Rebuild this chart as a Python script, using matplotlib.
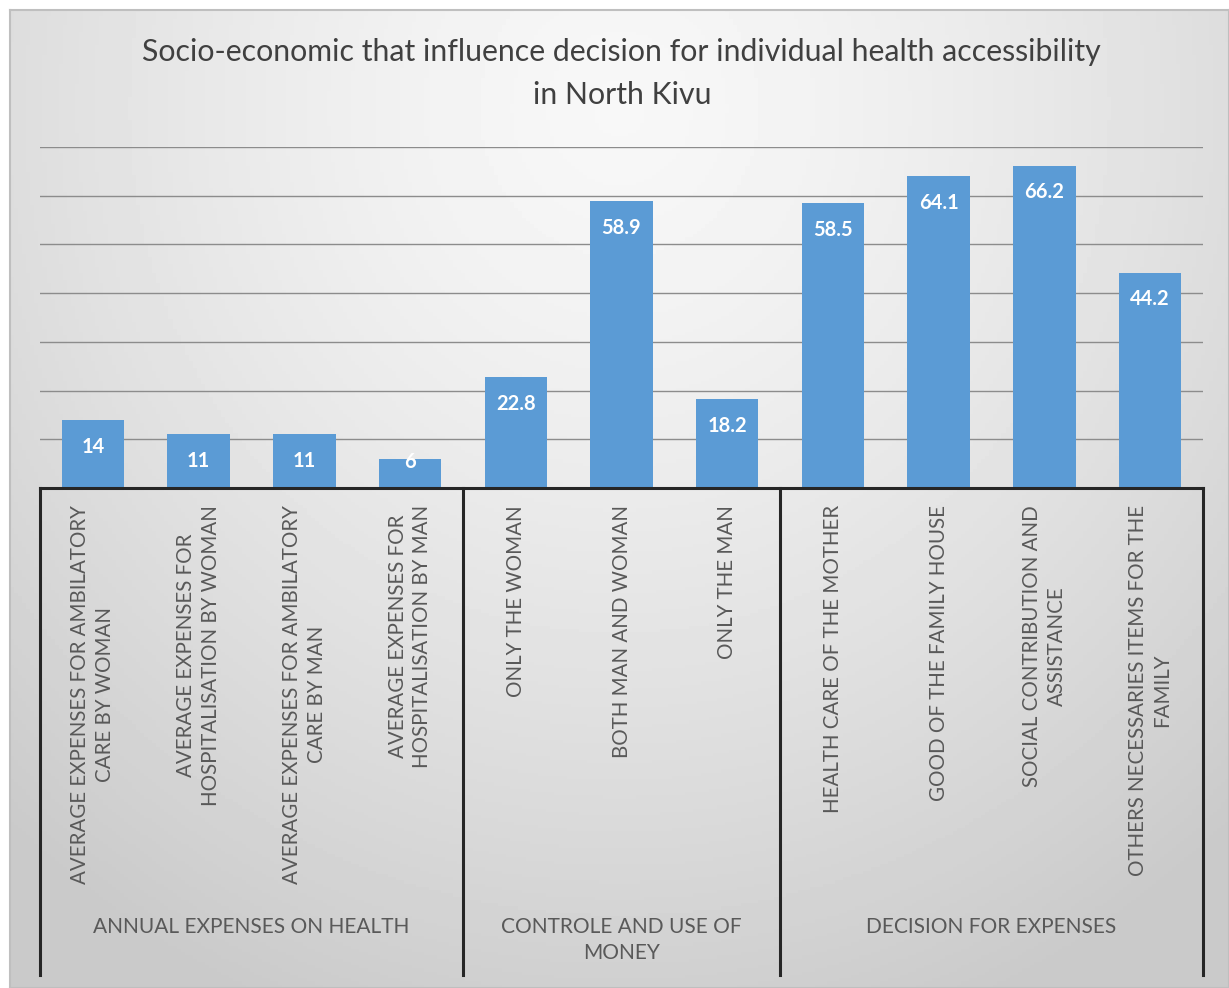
import numpy as np
import matplotlib
matplotlib.use("Agg")
import matplotlib.pyplot as plt

plt.rcParams['font.family'] = ['Lato', 'DejaVu Sans']

# data
labels = [
    "AVERAGE EXPENSES FOR AMBILATORY\nCARE BY WOMAN",
    "AVERAGE EXPENSES FOR\nHOSPITALISATION BY WOMAN",
    "AVERAGE EXPENSES FOR AMBILATORY\nCARE BY MAN",
    "AVERAGE EXPENSES FOR\nHOSPITALISATION BY MAN",
    "ONLY THE WOMAN",
    "BOTH MAN AND WOMAN",
    "ONLY THE MAN",
    "HEALTH CARE OF THE MOTHER",
    "GOOD OF THE FAMILY HOUSE",
    "SOCIAL CONTRIBUTION AND\nASSISTANCE",
    "OTHERS NECESSARIES ITEMS FOR THE\nFAMILY",
]
values = [14, 11, 11, 6, 22.8, 58.9, 18.2, 58.5, 64.1, 66.2, 44.2]
value_text = ["14", "11", "11", "6", "22.8", "58.9", "18.2", "58.5", "64.1", "66.2", "44.2"]
groups = ["ANNUAL EXPENSES ON HEALTH", "CONTROLE AND USE OF\nMONEY", "DECISION FOR EXPENSES"]
group_sizes = [4, 3, 4]

W, H = 1229, 988
fig = plt.figure(figsize=(W / 100, H / 100), dpi=100)
fig.patch.set_facecolor("white")

# background gradient
bg = fig.add_axes([10 / W, 0, 1 - 10 / W, 1 - 10 / H], zorder=-5)
yy, xx = np.mgrid[0:1:300j, 0:1:300j]
r = np.sqrt(((xx - 0.5) / 0.75) ** 2 + ((yy - 0.1) / 1.0) ** 2)
grad = 0.97 - 0.18 * np.clip(r, 0, 1) ** 1.4
bg.imshow(grad, cmap="gray", vmin=0, vmax=1, aspect="auto", extent=[0, 1, 1, 0])
bg.set_xticks([])
bg.set_yticks([])
for s in bg.spines.values():
    s.set_color("#bfbfbf")
    s.set_linewidth(1.5)

left, right = 40 / W, 1203 / W
base, top = 488, 147
ax = fig.add_axes([left, 1 - base / H, right - left, (base - top) / H])
ax.patch.set_alpha(0)

x = np.arange(len(values))
bars = ax.bar(x, values, width=0.59, color="#5B9BD5", zorder=3)
ax.set_xlim(-0.5, len(values) - 0.5)
ax.set_ylim(0, 70)
ax.set_yticks(np.arange(10, 71, 10))
ax.yaxis.grid(True, color="#8c8c8c", linewidth=1.0, zorder=0)
ax.tick_params(left=False, labelleft=False, bottom=False, labelbottom=False)
for s in ["left", "right", "top"]:
    ax.spines[s].set_visible(False)
ax.spines["bottom"].set_color("#262626")
ax.spines["bottom"].set_linewidth(2.2)
ax.spines["bottom"].set_zorder(4)

# value labels inside the bar end (kept above the axis for short bars)
for xi, v, t in zip(x, values, value_text):
    ax.text(xi, max(v - 5.5, 5.4), t, ha="center", va="center", color="white",
            fontsize=14.5, fontweight="bold", zorder=5)

px = 1.0 / (base - top)
xt = ax.get_xaxis_transform()
for xi, lab in zip(x, labels):
    ax.text(xi, -17 * px, lab, rotation=90, ha="center", va="top",
            multialignment="center", fontsize=14.8, color="#595959",
            transform=xt, linespacing=1.3)

# group separators and labels
bottom_y = -(975 - base) * px
edges = np.concatenate([[0], np.cumsum(group_sizes)]) - 0.5
for e in edges:
    ax.plot([e, e], [0, bottom_y], color="#262626", linewidth=2.2,
            transform=xt, clip_on=False, zorder=4)
for i, g in enumerate(groups):
    c = (edges[i] + edges[i + 1]) / 2
    ax.text(c, -(917 - base) * px, g, ha="center", va="top",
            multialignment="center", fontsize=15, color="#595959",
            transform=xt, linespacing=1.35)

fig.text(0.506, 1 - 52 / H, "Socio-economic that influence decision for individual health accessibility",
         ha="center", va="center", fontsize=21.8, color="#404040")
fig.text(0.506, 1 - 95 / H, "in North Kivu", ha="center", va="center",
         fontsize=21.8, color="#404040")

fig.savefig("out.png", dpi=100)
